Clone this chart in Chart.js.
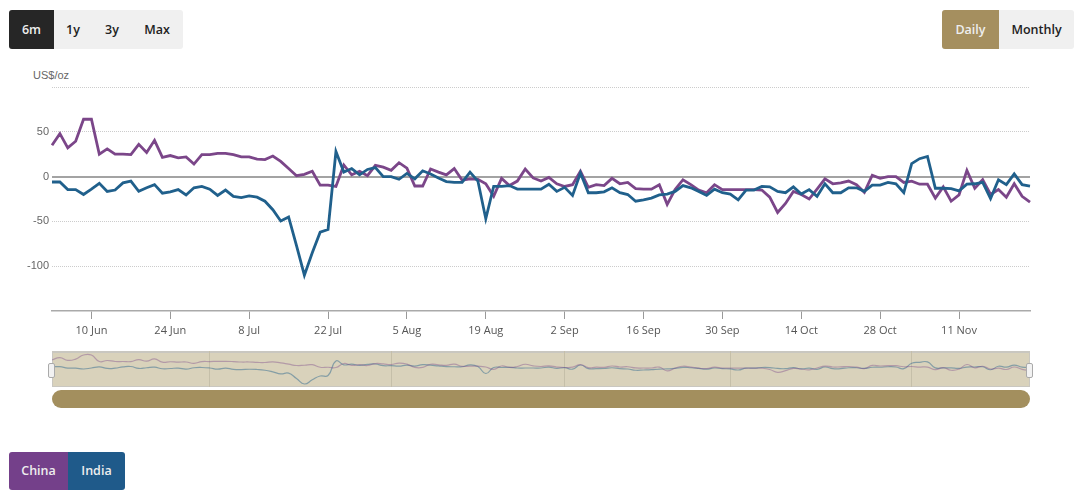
<!DOCTYPE html>
<html>
<head>
<meta charset="utf-8">
<script src="https://cdn.jsdelivr.net/npm/chart.js@4"></script>
<style>
    html, body { margin: 0; padding: 0; background: #fff; width: 1080px; height: 503px; overflow: hidden; }
    .box { position: absolute; }
    .btn { position: absolute; font: 600 12.5px "Open Sans", sans-serif; text-align: center; color: #222; }
    #chart-main { position: absolute; left: 0; top: 60px; }
    #nav-bg { position: absolute; left: 52px; top: 351px; width: 978px; height: 36px; background: #d9d2bb; box-sizing: border-box; border: 1px solid #c9c7c0; border-top-width: 2px; }
    #chart-nav { position: absolute; left: 52px; top: 351px; }
    .handle { position: absolute; top: 363px; width: 5px; height: 13px; background: #f2f2f2; border: 1px solid #aaa; border-radius: 2px; }
</style>
</head>
<body>
<div class="box" style="left:9px;top:10px;width:174px;height:39px;background:#f0f0f0;border-radius:3px"></div>
<div class="btn" style="left:9px;top:10px;width:45px;height:39px;line-height:39px;background:#262626;color:#eee;border-radius:3px 0 0 3px">6m</div>
<div class="btn" style="left:54px;top:10px;width:38px;line-height:39px">1y</div>
<div class="btn" style="left:93px;top:10px;width:38px;line-height:39px">3y</div>
<div class="btn" style="left:136px;top:10px;width:42px;line-height:39px">Max</div>

<div class="box" style="left:942px;top:10px;width:132px;height:39px;background:#f0f0f0;border-radius:3px"></div>
<div class="btn" style="left:942px;top:10px;width:57px;height:39px;line-height:39px;background:#a58f5f;color:#eee;border-radius:3px 0 0 3px">Daily</div>
<div class="btn" style="left:999px;top:10px;width:75px;line-height:39px">Monthly</div>

<div class="box" style="left:33px;top:69px;font:11px 'Liberation Sans',sans-serif;color:#666">US$/oz</div>
<canvas id="chart-main" width="1080" height="290"></canvas>

<div id="nav-bg"></div>
<canvas id="chart-nav" width="978" height="36"></canvas>
<div class="handle" style="left:48px"></div>
<div class="handle" style="left:1026px"></div>
<div class="box" style="left:52px;top:390px;width:978px;height:18px;background:#a38f5e;border-radius:9px"></div>

<div class="btn" style="left:9px;top:452px;width:59px;height:38px;line-height:38px;background:#74408a;color:#eee;border-radius:3px 0 0 3px">China</div>
<div class="btn" style="left:68px;top:452px;width:57px;height:38px;line-height:38px;background:#1f5a8a;color:#eee;border-radius:0 3px 3px 0">India</div>

<script>
const categories = [
    '3 Jun','4 Jun','5 Jun','6 Jun','7 Jun','10 Jun','11 Jun','12 Jun','13 Jun','14 Jun',
    '17 Jun','18 Jun','19 Jun','20 Jun','21 Jun','24 Jun','25 Jun','26 Jun','27 Jun','28 Jun',
    '1 Jul','2 Jul','3 Jul','4 Jul','5 Jul','8 Jul','9 Jul','10 Jul','11 Jul','12 Jul',
    '15 Jul','16 Jul','17 Jul','18 Jul','19 Jul','22 Jul','23 Jul','24 Jul','25 Jul','26 Jul',
    '29 Jul','30 Jul','31 Jul','1 Aug','2 Aug','5 Aug','6 Aug','7 Aug','8 Aug','9 Aug',
    '12 Aug','13 Aug','14 Aug','15 Aug','16 Aug','19 Aug','20 Aug','21 Aug','22 Aug','23 Aug',
    '26 Aug','27 Aug','28 Aug','29 Aug','30 Aug','2 Sep','3 Sep','4 Sep','5 Sep','6 Sep',
    '9 Sep','10 Sep','11 Sep','12 Sep','13 Sep','16 Sep','17 Sep','18 Sep','19 Sep','20 Sep',
    '23 Sep','24 Sep','25 Sep','26 Sep','27 Sep','30 Sep','1 Oct','2 Oct','3 Oct','4 Oct',
    '7 Oct','8 Oct','9 Oct','10 Oct','11 Oct','14 Oct','15 Oct','16 Oct','17 Oct','18 Oct',
    '21 Oct','22 Oct','23 Oct','24 Oct','25 Oct','28 Oct','29 Oct','30 Oct','31 Oct','1 Nov',
    '4 Nov','5 Nov','6 Nov','7 Nov','8 Nov','11 Nov','12 Nov','13 Nov','14 Nov','15 Nov',
    '18 Nov','19 Nov','20 Nov','21 Nov','22 Nov'
];

const china = [
    35, 48, 32, 39.5, 64, 64, 25, 31, 25, 25,
    24.5, 36, 27, 40.5, 21.5, 23.5, 21, 22, 14, 24.5,
    24.5, 26, 26, 24.5, 22, 22, 19.5, 19, 23, 17,
    9, 1, 2.5, 6, -9.5, -9.5, -11, 13, 2, 6,
    1, 12.5, 10.5, 7, 15.5, 9.5, -10.5, -10.5, 8.5, 5,
    2, 9, -4, -2.5, -3, -8, -22, -2, -10, -5,
    8.5, -1.5, -5, -1, -8, -11, -9, 6, -12, -9,
    -10, -2, -8, -6.5, -13.5, -14, -14, -9, -31, -14.5,
    -3.5, -9, -15, -18, -9, -14.5, -14.5, -14.5, -14.5, -14.5,
    -15, -23, -40, -30, -16.5, -20, -25, -14, -2.5, -8,
    -7, -5, -9, -17.5, 1.5, -2, 0, 0, -6.5, -5,
    -8.5, -8.5, -24, -11.5, -27.5, -20.5, 7, -13, -3.5, -20,
    -14.5, -23, -8, -22, -28.5
];

const india = [
    -6, -6, -14.5, -14.5, -20, -14, -7.5, -16.5, -15, -7,
    -5, -16.5, -12.5, -9, -18.5, -17, -14.5, -20.5, -12.5, -11,
    -14, -21, -15, -22, -23.5, -21.5, -23, -27.5, -37, -49.5,
    -45, -77, -110, -85, -62, -59, 28, 5, 9, 2,
    8, 10, 0, 0, -3, 3.5, -2.5, 6.5, 3, -1.5,
    -5.5, -6.5, -6.5, 5, -5, -47, -11, -11, -10, -14,
    -14, -14, -14, -8.5, -16.5, -12, -21, 4, -18, -18,
    -17, -12.5, -18, -20, -27.5, -26, -24, -20.5, -19.5, -16.5,
    -10, -12.5, -16.5, -21, -14, -18, -19.5, -26, -15, -15,
    -11, -11.5, -16.5, -18, -11.5, -19.5, -14.5, -22, -8, -18,
    -18, -12.5, -12.5, -16.5, -9.5, -9.5, -6.5, -8, -18, 14.5,
    20, 22.5, -13, -13, -13.5, -16, -8.5, -8, -6.5, -24.5,
    -3.5, -9, 3, -9, -10.5
];

const xTickLabels = ['10 Jun','24 Jun','8 Jul','22 Jul','5 Aug','19 Aug','2 Sep','16 Sep','30 Sep','14 Oct','28 Oct','11 Nov'];
const monthStarts = ['1 Jul','1 Aug','2 Sep','1 Oct','1 Nov'];
const yTickLabels = [50, 0, -50, -100];

// keep only the category ticks listed in "names"
function onlyTicks(names) {
    return function(scale) {
        scale.ticks = scale.ticks.filter(t => names.includes(categories[t.value]));
    };
}

new Chart(document.getElementById('chart-main').getContext('2d'), {
    type: 'line',
    data: {
        labels: categories,
        datasets: [
            { label: 'India', data: india, borderColor: '#20608c', borderWidth: 2.8, pointRadius: 0, tension: 0 },
            { label: 'China', data: china, borderColor: '#7b4689', borderWidth: 2.8, pointRadius: 0, tension: 0 }
        ]
    },
    options: {
        responsive: false,
        animation: false,
        layout: { padding: { top: 27, right: 50, left: 0, bottom: 0 } },
        plugins: { legend: { display: false }, tooltip: { enabled: false } },
        scales: {
            x: {
                offset: false,
                afterBuildTicks: onlyTicks(xTickLabels),
                afterFit: (scale) => { scale.height = 39; },
                border: { color: '#aaa', width: 1.5 },
                grid: { drawOnChartArea: false, color: '#999', tickLength: 8 },
                ticks: {
                    autoSkip: false, maxRotation: 0, padding: 5,
                    color: '#555',
                    font: { family: '"Open Sans"', size: 11 }
                }
            },
            y: {
                min: -150,
                max: 100,
                afterFit: (scale) => { scale.width = 52; },
                border: { display: false, dash: (ctx) => ctx.tick && ctx.tick.value === 0 ? [] : [1, 1] },
                grid: {
                    drawTicks: false,
                    color: (ctx) => {
                        if (ctx.tick.value === 0) return '#a3a3a3';
                        return ctx.tick.value === -150 ? 'rgba(0,0,0,0)' : '#ccc';
                    },
                    lineWidth: (ctx) => ctx.tick.value === 0 ? 2 : 1
                },
                ticks: {
                    stepSize: 50,
                    padding: 3,
                    color: '#666',
                    font: { family: '"Liberation Sans"', size: 11 },
                    callback: (value) => yTickLabels.includes(value) ? value : ''
                }
            }
        }
    }
});

new Chart(document.getElementById('chart-nav').getContext('2d'), {
    type: 'line',
    data: {
        labels: categories,
        datasets: [
            { label: 'China', data: china, borderColor: 'rgba(123,70,137,0.4)', borderWidth: 1.2, pointRadius: 0, tension: 0.5 },
            { label: 'India', data: india, borderColor: 'rgba(32,96,140,0.45)', borderWidth: 1.2, pointRadius: 0, tension: 0.5 }
        ]
    },
    options: {
        responsive: false,
        animation: false,
        plugins: { legend: { display: false }, tooltip: { enabled: false } },
        scales: {
            x: {
                offset: false,
                afterBuildTicks: onlyTicks(monthStarts),
                afterFit: (scale) => { scale.height = 0; },
                border: { display: false },
                grid: { color: '#c5bfa9', drawTicks: false },
                ticks: { display: false, autoSkip: false, maxRotation: 0 }
            },
            y: { display: false, min: -128, max: 88 }
        }
    }
});
</script>
</body>
</html>
